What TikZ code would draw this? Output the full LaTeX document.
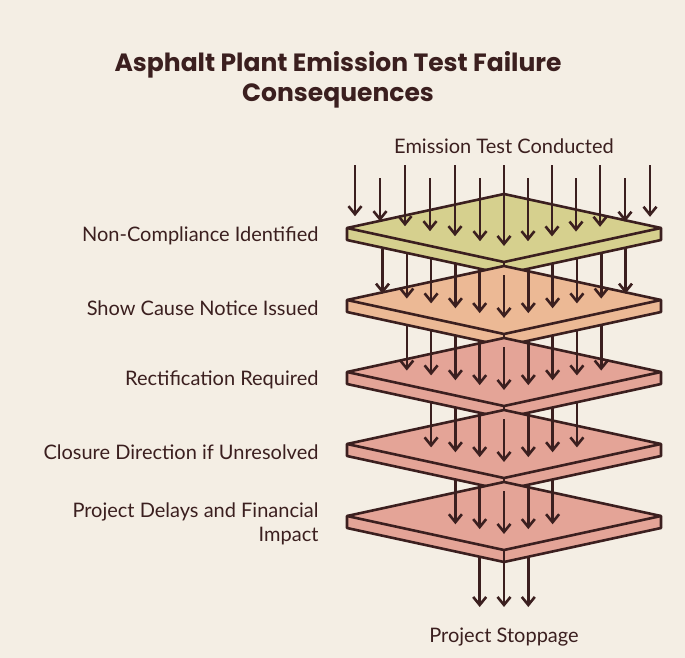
\documentclass[tikz,border=0pt]{standalone}
\usepackage{fontspec}
\setmainfont{Lato}
\newfontfamily\titlefont{Poppins}[BoldFont={* Bold}]
\usetikzlibrary{arrows.meta}
\begin{document}
\begin{tikzpicture}[x=1pt,y=-1pt,
  ln/.style={draw=brn,line width=2.6pt,line join=round},
  arr/.style={draw=brn,line width=2.6pt,-{Straight Barb[length=8pt,width=13pt,line width=2.6pt]}},
  lab/.style={font=\fontsize{20}{24}\selectfont,text=brn,align=right,anchor=east}]
\definecolor{bg}{HTML}{F4EEE4}
\definecolor{brn}{HTML}{3B1F1F}
\definecolor{cA}{HTML}{D6D08E}
\definecolor{cB}{HTML}{ECB995}
\definecolor{cC}{HTML}{E4A497}
\fill[bg] (0,0) rectangle (685,658);
\useasboundingbox (0,0) rectangle (685,658);
\node[font=\titlefont\bfseries\fontsize{25}{30}\selectfont,text=brn,align=center] (title) at (338,80) {Asphalt Plant Emission Test Failure\\Consequences};
\node[font=\fontsize{20}{24}\selectfont,text=brn] (top) at (504,146) {Emission Test Conducted};
\node[font=\fontsize{20}{24}\selectfont,text=brn] (stop) at (504,637) {Project Stoppage};
% plates
\foreach \m/\c/\t [count=\i] in {228/cA/{Non-Compliance Identified},300/cB/{Show Cause Notice Issued},372/cC/{Rectification Required},444/cC/{Closure Direction if Unresolved},516/cC/{Project Delays and Financial\\Impact}}{
  \path[ln,fill=\c] (347,\m) -- (504,\m-34) -- (661,\m) -- (661,\m+12) -- (504,\m+46) -- (347,\m+12) -- cycle;
  \draw[ln] (347,\m) -- (504,\m+34) -- (661,\m);
  \draw[ln] (504,\m+34) -- (504,\m+46);
  \node[lab] (l\i) at (322,\m+8) {\t};
}
% arrows above first plate
\foreach \x [count=\k] in {355,380,405,430,455,480,504,528,552,576,600,625,650}{
  \pgfmathsetmacro\dx{abs(\x-504)}
  \pgfmathsetmacro\e{228+18-\dx*0.2}
  \pgfmathsetmacro\s{isodd(\k)?165:178}
  \draw[arr] (\x,\s) -- (\x,\e);
}
% arrows between plates
\foreach \pm/\n/\w in {228/300/6,300/372/5,372/444/4,444/516/3}{
  \foreach \j in {-\w,...,\w}{
    \pgfmathsetmacro\x{504+24.3*\j}
    \pgfmathsetmacro\dx{abs(\x-504)}
    \pgfmathsetmacro\s{\pm+13+34*(1-\dx/157)}
    \pgfmathsetmacro\e{\n+18-\dx*0.2}
    \pgfmathparse{abs(\j)<\w?1:0}
    \ifnum\pgfmathresult=1
      \draw[arr] (\x,\s) -- (\x,\e);
    \fi
  }
}
\foreach \j in {-1,0,1}{
  \pgfmathsetmacro\x{504+24.3*\j}
  \pgfmathsetmacro\dx{abs(\x-504)}
  \pgfmathsetmacro\s{516+13+34*(1-\dx/157)}
  \draw[arr] (\x,\s) -- (\x,607);
}
\end{tikzpicture}
\end{document}
